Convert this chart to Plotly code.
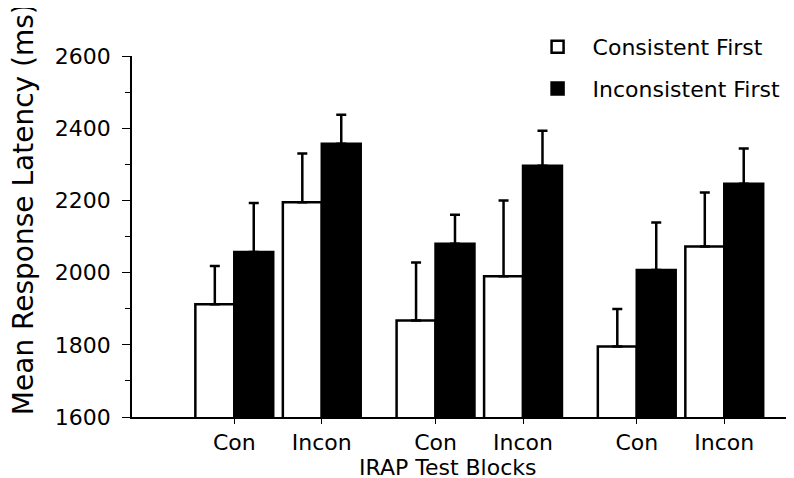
import plotly.graph_objects as go

# ---- data ----
blocks = ["Con", "Incon", "Con", "Incon", "Con", "Incon"]
block_pair = [0, 0, 1, 1, 2, 2]          # which IRAP block pair each category belongs to
consistent_first = [1912, 2195, 1867, 1990, 1795, 2072]
consistent_first_err = [106, 135, 161, 210, 104, 150]
inconsistent_first = [2057, 2357, 2080, 2296, 2007, 2246]
inconsistent_first_err = [136, 80, 80, 97, 132, 98]
y_ticks = [1600, 1800, 2000, 2200, 2400, 2600]

# category positions: unit spacing within a pair, extra gap between pairs
PAIR_GAP = 0.3
xpos = [i + p * PAIR_GAP for i, p in enumerate(block_pair)]

FONT = "DejaVu Sans"
# the html page body has an 8px default margin; compensate in the figure margins
PAGE_OFF = 8

fig = go.Figure()
fig.add_trace(go.Bar(
    x=xpos, y=consistent_first, name="Consistent First",
    marker=dict(color="white", line=dict(color="black", width=2.5)),
    error_y=dict(type="data", symmetric=False, array=consistent_first_err,
                 arrayminus=[0] * len(consistent_first_err),
                 color="black", thickness=2.5, width=5),
    legendgroup="a",
))
fig.add_trace(go.Bar(
    x=xpos, y=inconsistent_first, name="Inconsistent First",
    marker=dict(color="black", line=dict(color="black", width=2.5)),
    error_y=dict(type="data", symmetric=False, array=inconsistent_first_err,
                 arrayminus=[0] * len(inconsistent_first_err),
                 color="black", thickness=2.5, width=5),
    legendgroup="b",
))

fig.update_layout(
    width=794, height=478,
    margin=dict(l=132 - PAGE_OFF, r=PAGE_OFF, t=56 - PAGE_OFF, b=61.3 + PAGE_OFF, autoexpand=False),
    paper_bgcolor="white", plot_bgcolor="white",
    barmode="group", bargap=0.11, bargroupgap=0,
    font=dict(family=FONT, size=22, color="black"),
    showlegend=True,
    legend=dict(x=0.590, y=1.083, xanchor="left", yanchor="top",
                bgcolor="rgba(0,0,0,0)", itemwidth=60, tracegroupgap=10,
                font=dict(family=FONT, size=22, color="black")),
    xaxis=dict(
        range=[-1.169, 6.397],
        tickvals=xpos, ticktext=blocks,
        showline=True, linecolor="black", linewidth=1.5,
        ticks="outside", ticklen=5, tickwidth=1.2, tickcolor="black",
        showgrid=False, zeroline=False,
        tickfont=dict(family=FONT, size=22),
    ),
    yaxis=dict(
        range=[1600, 2600], tickvals=y_ticks,
        showline=True, linecolor="black", linewidth=1.5,
        ticks="outside", ticklen=8, tickwidth=1.2, tickcolor="black",
        minor=dict(dtick=100, ticks="outside", ticklen=5, tickwidth=1.2, tickcolor="black", showgrid=False),
        showgrid=False, zeroline=False, ticklabelstandoff=7,
        tickfont=dict(family=FONT, size=22),
    ),
    annotations=[
        dict(text="IRAP Test Blocks", xref="paper", yref="paper",
             x=(447 - 132) / 662, y=-(467 - 416.7) / 360.7,
             xanchor="center", yanchor="middle", showarrow=False,
             font=dict(family=FONT, size=22)),
        dict(text="Mean Response Latency (ms)", xref="paper", yref="paper",
             x=(23 - 132) / 662, y=(416.7 - 209) / 360.7, textangle=-90,
             xanchor="center", yanchor="middle", showarrow=False,
             font=dict(family=FONT, size=28)),
    ],
)

fig.write_html("out.html")
